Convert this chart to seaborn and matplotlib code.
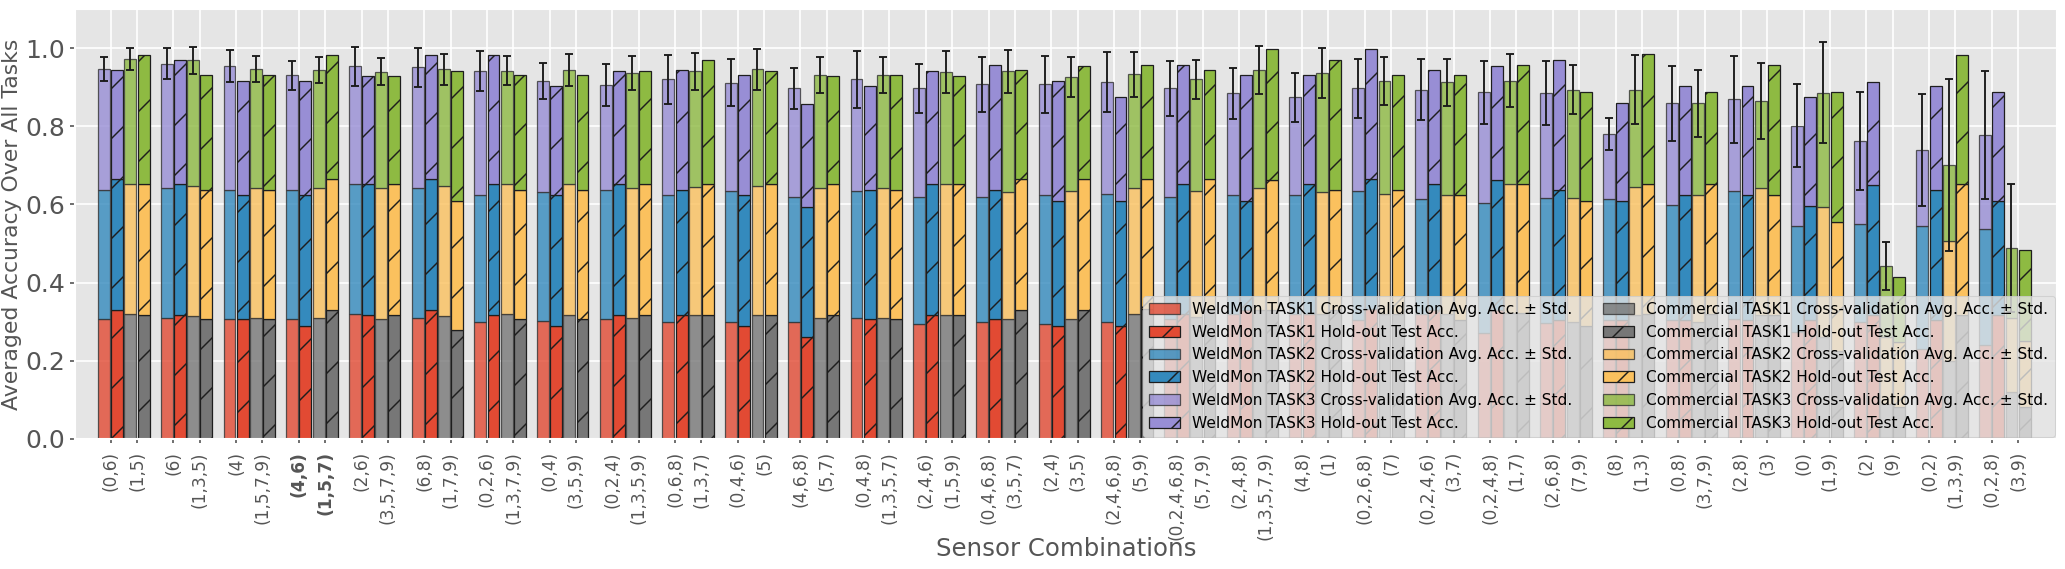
import numpy as np
import matplotlib
matplotlib.use("Agg")
import matplotlib.pyplot as plt
import seaborn as sns
from matplotlib.patches import Patch

# sensor combinations, one WeldMon / one Commercial combination per group
weld_combos = ['(0,6)', '(6)', '(4)', '(4,6)', '(2,6)', '(6,8)', '(0,2,6)', '(0,4)', '(0,2,4)', '(0,6,8)',
               '(0,4,6)', '(4,6,8)', '(0,4,8)', '(2,4,6)', '(0,4,6,8)', '(2,4)', '(2,4,6,8)', '(0,2,4,6,8)',
               '(2,4,8)', '(4,8)', '(0,2,6,8)', '(0,2,4,6)', '(0,2,4,8)', '(2,6,8)', '(8)', '(0,8)', '(2,8)',
               '(0)', '(2)', '(0,2)', '(0,2,8)']
comm_combos = ['(1,5)', '(1,3,5)', '(1,5,7,9)', '(1,5,7)', '(3,5,7,9)', '(1,7,9)', '(1,3,7,9)', '(3,5,9)',
               '(1,3,5,9)', '(1,3,7)', '(5)', '(5,7)', '(1,3,5,7)', '(1,5,9)', '(3,5,7)', '(3,5)', '(5,9)',
               '(5,7,9)', '(1,3,5,7,9)', '(1)', '(7)', '(3,7)', '(1,7)', '(7,9)', '(1,3)', '(3,7,9)', '(3)',
               '(1,9)', '(9)', '(1,3,9)', '(3,9)']
best_group = 3

# per-task accuracies (each task adds acc/3 to the averaged accuracy)
weld_cv_t1 = [0.921, 0.93, 0.918, 0.918, 0.96, 0.93, 0.894, 0.903, 0.918, 0.894, 0.90, 0.894, 0.93, 0.885, 0.90, 0.885,
              0.90, 0.924, 0.96, 0.96, 0.915, 0.96, 0.816, 0.888, 0.915, 0.915, 0.921, 0.819, 0.90, 0.693, 0.72]
weld_cv_t2 = [0.99, 1.0, 0.993, 0.993, 0.999, 1.0, 0.978, 0.993, 0.993, 0.978, 1.0, 0.963, 0.975, 0.972, 0.957, 0.987,
              0.981, 0.933, 0.912, 0.912, 0.987, 0.882, 0.996, 0.963, 0.927, 0.882, 0.984, 0.816, 0.75, 0.942, 0.894]
weld_cv_t3 = [0.927, 0.951, 0.951, 0.882, 0.903, 0.921, 0.951, 0.852, 0.807, 0.888, 0.834, 0.834, 0.855, 0.834, 0.864,
              0.849, 0.858, 0.834, 0.78, 0.75, 0.789, 0.84, 0.849, 0.801, 0.498, 0.78, 0.702, 0.768, 0.636, 0.585, 0.72]
weld_cv_std = [0.030, 0.040, 0.040, 0.037, 0.050, 0.051, 0.052, 0.046, 0.054, 0.063, 0.060, 0.052, 0.073, 0.063, 0.070,
               0.073, 0.077, 0.070, 0.066, 0.062, 0.076, 0.077, 0.080, 0.082, 0.041, 0.096, 0.111, 0.106, 0.125, 0.143,
               0.164]
weld_ho_t1 = [0.993, 0.954, 0.918, 0.87, 0.954, 0.993, 0.954, 0.87, 0.954, 0.954, 0.87, 0.783, 0.918, 0.954, 0.918, 0.87,
              0.87, 0.96, 0.99, 0.96, 1.0, 0.99, 0.99, 0.915, 0.915, 0.915, 0.912, 0.915, 0.951, 0.915, 0.954]
weld_ho_t2 = [1.0, 1.0, 0.954, 1.0, 1.0, 1.0, 1.0, 1.0, 1.0, 0.957, 1.0, 1.0, 0.993, 1.0, 0.993, 0.957, 0.957, 0.999,
              0.837, 0.999, 0.996, 0.969, 1.0, 0.996, 0.912, 0.957, 0.96, 0.873, 1.0, 0.996, 0.873]
weld_ho_t3 = [0.837, 0.954, 0.876, 0.876, 0.834, 0.957, 0.993, 0.837, 0.873, 0.921, 0.921, 0.789, 0.798, 0.873, 0.957,
              0.921, 0.795, 0.909, 0.966, 0.834, 1.0, 0.873, 0.873, 1.0, 0.75, 0.837, 0.837, 0.834, 0.789, 0.798, 0.834]

comm_cv_t1 = [0.96, 0.945, 0.93, 0.93, 0.924, 0.945, 0.96, 0.954, 0.93, 0.954, 0.954, 0.93, 0.93, 0.954, 0.924, 0.924,
              0.96, 0.936, 0.99, 0.96, 0.96, 0.96, 0.966, 0.90, 0.951, 0.894, 0.951, 0.78, 0.27, 0.60, 0.36]
comm_cv_t2 = [1.0, 0.999, 0.999, 0.999, 1.0, 0.996, 1.0, 1.0, 0.999, 0.978, 0.987, 1.0, 0.999, 1.0, 0.972, 0.981,
              0.969, 0.969, 0.939, 0.936, 0.921, 0.912, 0.993, 0.951, 0.981, 0.978, 0.978, 1.0, 0.51, 0.921, 0.57]
comm_cv_t3 = [0.957, 0.963, 0.909, 0.903, 0.894, 0.897, 0.867, 0.879, 0.879, 0.891, 0.897, 0.867, 0.864, 0.864, 0.927,
              0.873, 0.87, 0.855, 0.903, 0.912, 0.867, 0.867, 0.789, 0.831, 0.75, 0.705, 0.663, 0.879, 0.549, 0.582,
              0.537]
comm_cv_std = [0.028, 0.035, 0.034, 0.034, 0.035, 0.040, 0.037, 0.041, 0.044, 0.047, 0.052, 0.046, 0.045, 0.053, 0.055,
               0.051, 0.057, 0.050, 0.062, 0.064, 0.062, 0.060, 0.068, 0.062, 0.089, 0.086, 0.097, 0.129, 0.061, 0.22,
               0.163]
comm_ho_t1 = [0.954, 0.918, 0.918, 0.993, 0.954, 0.834, 0.918, 0.918, 0.954, 0.954, 0.954, 0.954, 0.918, 0.954, 0.993,
              0.993, 1.0, 0.996, 0.99, 0.99, 0.96, 0.915, 0.966, 0.87, 0.96, 0.96, 0.951, 0.672, 0.243, 0.954, 0.243]
comm_ho_t2 = [1.0, 0.993, 0.993, 1.0, 1.0, 0.993, 0.993, 0.993, 1.0, 1.0, 1.0, 1.0, 0.993, 1.0, 1.0, 1.0, 0.996, 0.999,
              1.0, 0.921, 0.951, 0.957, 0.993, 0.957, 0.999, 0.999, 0.921, 0.996, 0.501, 1.0, 0.507]
comm_ho_t3 = [0.993, 0.882, 0.882, 0.957, 0.834, 1.0, 0.882, 0.882, 0.873, 0.954, 0.873, 0.834, 0.882, 0.834, 0.837,
              0.873, 0.873, 0.837, 1.0, 1.0, 0.882, 0.921, 0.909, 0.834, 0.993, 0.702, 0.996, 0.993, 0.498, 0.993, 0.702]

weld_colors = ['#E24A33', '#348ABD', '#988ED5']
comm_colors = ['#777777', '#FBC15E', '#8EBA42']

plt.style.use('ggplot')
plt.rcParams['hatch.linewidth'] = 0.7

n = len(weld_combos)
g = np.arange(n)
bw = 0.19
fig, ax = plt.subplots(figsize=(2065 / 150, 569 / 150), dpi=150)
fig.subplots_adjust(left=0.0363, right=0.9961, top=0.9842, bottom=0.2285)


def stacked(xpos, tasks, colors, alpha, hatch, edge):
    bottom = np.zeros(n)
    for acc, c in zip(tasks, colors):
        h = np.array(acc) / 3
        sns.barplot(x=xpos, y=h, orient='x', native_scale=True, width=bw, color=c, saturation=1,
                    alpha=alpha, hatch=hatch, edgecolor=edge, linewidth=0.6, bottom=bottom,
                    errorbar=None, ax=ax)
        bottom = bottom + h
    return bottom


top_wcv = stacked(g - 0.315, [weld_cv_t1, weld_cv_t2, weld_cv_t3], weld_colors, 0.8, None, '#333333')
stacked(g - 0.105, [weld_ho_t1, weld_ho_t2, weld_ho_t3], weld_colors, 1.0, '/', '#1e1e1e')
top_ccv = stacked(g + 0.105, [comm_cv_t1, comm_cv_t2, comm_cv_t3], comm_colors, 0.8, None, '#333333')
stacked(g + 0.315, [comm_ho_t1, comm_ho_t2, comm_ho_t3], comm_colors, 1.0, '/', '#1e1e1e')

ax.errorbar(g - 0.315, top_wcv, yerr=weld_cv_std, fmt='none', ecolor='#1a1a1a', elinewidth=0.9, capsize=2, capthick=0.9, zorder=3)
ax.errorbar(g + 0.105, top_ccv, yerr=comm_cv_std, fmt='none', ecolor='#1a1a1a', elinewidth=0.9, capsize=2, capthick=0.9, zorder=3)

ticks = np.ravel(np.column_stack([g - 0.21, g + 0.21]))
labels = [lab for pair in zip(weld_combos, comm_combos) for lab in pair]
ax.set_xticks(ticks)
ax.set_xticklabels(labels, rotation=90, fontsize=8.2, color='#555555')
for i in (2 * best_group, 2 * best_group + 1):
    ax.get_xticklabels()[i].set_fontweight('bold')
ax.set_yticks([0.0, 0.2, 0.4, 0.6, 0.8, 1.0])
ax.set_yticklabels(['0.0', '0.2', '0.4', '0.6', '0.8', '1.0'], fontsize=12, color='#555555')
ax.tick_params(axis='y', length=2.4, pad=2.4)
ax.tick_params(axis='x', length=2.1, pad=3.7)
ax.set_xlim(-0.78, n - 1 + 0.83)
ax.set_ylim(0, 1.1)

ax.set_ylabel('Averaged Accuracy Over All Tasks', fontsize=10.5, color='#555555', labelpad=1.5)
ax.set_xlabel('Sensor Combinations', fontsize=11.7, color='#555555')
ax.xaxis.set_label_coords(0.5, -0.228)

handles, names = [], []
for sysname, cols in (('WeldMon', weld_colors), ('Commercial', comm_colors)):
    for t, c in enumerate(cols):
        handles.append(Patch(facecolor=c, edgecolor='#333333', alpha=0.8, linewidth=0.6))
        names.append(f'{sysname} TASK{t + 1} Cross-validation Avg. Acc. ± Std.')
        handles.append(Patch(facecolor=c, edgecolor='#1e1e1e', hatch='/', linewidth=0.6))
        names.append(f'{sysname} TASK{t + 1} Hold-out Test Acc.')
leg = ax.legend(handles, names, loc='lower right', ncol=2, fontsize=7.4, framealpha=0.8,
                facecolor='#E5E5E5', edgecolor='#CCCCCC', borderaxespad=0.15)
leg.set_zorder(5)

fig.savefig('out.png', dpi=150)
